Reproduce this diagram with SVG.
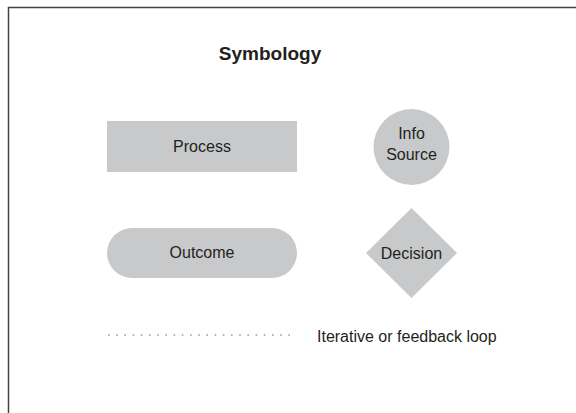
<svg xmlns="http://www.w3.org/2000/svg" width="576" height="413" viewBox="0 0 576 413">
<style>
.shape{fill:#c8c9cb;stroke:none}
.lbl{font-family:"Liberation Sans",Arial,sans-serif;font-size:16px;fill:#231f20;text-anchor:middle}
.title{font-family:"Liberation Sans",Arial,sans-serif;font-size:19px;font-weight:bold;fill:#231f20;text-anchor:middle}
</style>
<rect x="0" y="0" width="576" height="413" fill="#ffffff"/>
<path d="M8.5 420 V7.5 H580" fill="none" stroke="#444" stroke-width="1.5"/>
<text class="title" x="270" y="60">Symbology</text>
<g id="process">
<rect class="shape" x="107" y="121" width="190" height="51"/>
<text class="lbl" x="202" y="152">Process</text>
</g>
<g id="info-source">
<circle class="shape" cx="411.5" cy="147" r="38"/>
<text class="lbl" x="411.5" y="139">Info</text>
<text class="lbl" x="411.5" y="160">Source</text>
</g>
<g id="outcome">
<rect class="shape" x="107" y="228" width="190" height="50" rx="25" ry="25"/>
<text class="lbl" x="202" y="258">Outcome</text>
</g>
<g id="decision">
<polygon class="shape" points="411.5,208 457,253 411.5,298 366,253"/>
<text class="lbl" x="411.5" y="259">Decision</text>
</g>
<g id="connectors">
<line x1="108" y1="335" x2="296" y2="335" stroke="#9a9a9a" stroke-width="1.6" stroke-dasharray="1.6 6.6"/>
</g>
<text class="lbl" x="317" y="342" style="text-anchor:start">Iterative or feedback loop</text>
</svg>
